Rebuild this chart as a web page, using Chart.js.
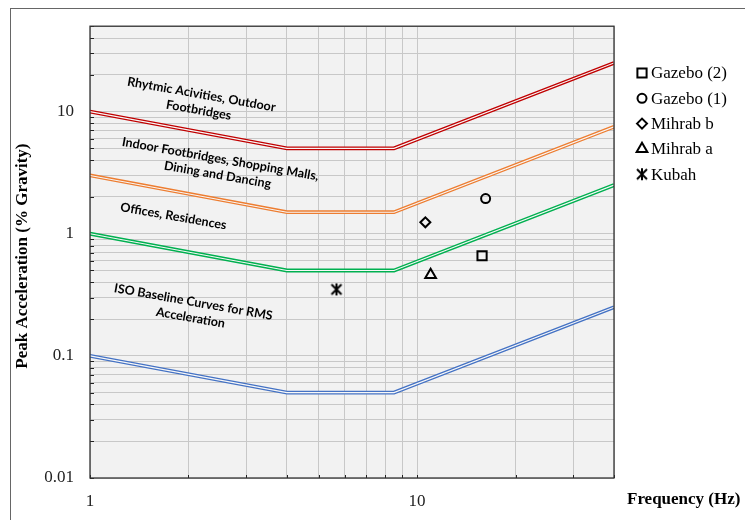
<!DOCTYPE html>
<html>
<head>
<meta charset="utf-8">
<script src="https://cdn.jsdelivr.net/npm/chart.js@4.4.1/dist/chart.umd.min.js"></script>
<style>
  body { margin: 0; background: #fff; }
  #wrap { width: 745px; height: 520px; }
</style>
</head>
<body>
<div id="wrap"><canvas id="vibChart"></canvas></div>
<script>
// limit curves: ISO baseline and its multiples
const curveFreq = [1, 4, 8.5, 40];
const isoBaseline = [0.1, 0.05, 0.05, 0.25];
const officeLimit = [1, 0.5, 0.5, 2.5];
const indoorLimit = [3, 1.5, 1.5, 7.5];
const rhythmicLimit = [10, 5, 5, 25];

// measured peaks [frequency Hz, peak acceleration %g]
const gazebo2 = [15.8, 0.66];
const gazebo1 = [16.2, 1.94];
const mihrabB = [10.6, 1.24];
const mihrabA = [11.0, 0.46];
const kubah = [5.67, 0.35];

// axis ticks
const xTicks = [1, 2, 3, 4, 5, 6, 7, 8, 9, 10, 20, 30, 40];
const xLabels = [1, 10];
const yTicks = [0.01, 0.02, 0.03, 0.04, 0.05, 0.06, 0.07, 0.08, 0.09,
                0.1, 0.2, 0.3, 0.4, 0.5, 0.6, 0.7, 0.8, 0.9,
                1, 2, 3, 4, 5, 6, 7, 8, 9,
                10, 20, 30, 40, 50];
const yLabels = [0.01, 0.1, 1, 10];

// curve captions, anchored at [frequency, acceleration]
const curveNotes = [
    { lines: ['Rhytmic Acivities, Outdoor', 'Footbridges'], at: [2.17, 11.9] },
    { lines: ['Indoor Footbridges, Shopping Malls,', 'Dining and Dancing'], at: [2.48, 3.52] },
    { lines: ['Offices, Residences'], at: [1.8, 1.39] },
    { lines: ['ISO Baseline Curves for RMS', 'Acceleration'], at: [2.05, 0.238] }
];

const serif = "'Liberation Serif', 'Times New Roman', serif";

function curvePoints(values) {
    return curveFreq.map((f, i) => ({ x: f, y: values[i] }));
}

// each limit curve is a double line: wide coloured stroke with a thin light core on top
function doubleLine(label, values, color) {
    const pts = curvePoints(values);
    const base = { showLine: true, pointRadius: 0, tension: 0, fill: false, borderJoinStyle: 'miter' };
    return [
        Object.assign({ label: label, data: pts, borderColor: color, borderWidth: 3.8, order: 3 }, base),
        Object.assign({ label: label + ' core', data: pts, borderColor: '#f8f8f8', borderWidth: 1.1, order: 2 }, base)
    ];
}

function starMarker() {
    const c = document.createElement('canvas');
    c.width = 14; c.height = 14;
    const g = c.getContext('2d');
    g.strokeStyle = '#000';
    g.lineWidth = 2;
    g.beginPath();
    g.moveTo(2, 2); g.lineTo(12, 12);
    g.moveTo(12, 2); g.lineTo(2, 12);
    g.moveTo(7, 1); g.lineTo(7, 13);
    g.stroke();
    return c;
}

function marker(label, pt, style, radius) {
    return {
        label: label,
        data: [{ x: pt[0], y: pt[1] }],
        pointStyle: style,
        pointRadius: radius,
        pointHoverRadius: radius,
        pointBorderWidth: 2,
        pointBorderColor: '#000',
        pointBackgroundColor: 'rgba(0,0,0,0)',
        order: 1,
        isMarker: true
    };
}

const datasets = [].concat(
    doubleLine('ISO baseline', isoBaseline, '#4472c4'),
    doubleLine('Offices', officeLimit, '#00b050'),
    doubleLine('Indoor', indoorLimit, '#ed7d31'),
    doubleLine('Rhythmic', rhythmicLimit, '#c00000'),
    [
        marker('Gazebo (2)', gazebo2, 'rect', 6.5),
        marker('Gazebo (1)', gazebo1, 'circle', 4.5),
        marker('Mihrab b', mihrabB, 'rectRot', 5),
        marker('Mihrab a', mihrabA, 'triangle', 6.2),
        marker('Kubah', kubah, starMarker(), 6)
    ]
);

// plot background, frame, inward ticks, captions, titles and legend
const decorations = {
    id: 'decorations',
    beforeDraw(chart) {
        const { ctx, chartArea: a } = chart;
        ctx.save();
        ctx.fillStyle = '#fff';
        ctx.fillRect(0, 0, chart.width, chart.height);
        ctx.fillStyle = '#f2f2f2';
        ctx.fillRect(a.left, a.top, a.right - a.left, a.bottom - a.top);
        ctx.restore();
    },
    beforeDatasetsDraw(chart) {
        const { ctx, chartArea: a, scales } = chart;
        ctx.save();
        ctx.strokeStyle = '#222';
        ctx.lineWidth = 1;
        ctx.beginPath();
        yTicks.forEach(v => {
            const y = Math.round(scales.y.getPixelForValue(v)) + 0.5;
            ctx.moveTo(a.left, y); ctx.lineTo(a.left + 4, y);
        });
        xTicks.forEach(v => {
            const x = Math.round(scales.x.getPixelForValue(v)) + 0.5;
            ctx.moveTo(x, a.bottom); ctx.lineTo(x, a.bottom - 3);
        });
        ctx.stroke();

        // curve captions
        ctx.fillStyle = '#000';
        ctx.font = "bold 12.5px Lato, 'Open Sans', sans-serif";
        ctx.textAlign = 'center';
        ctx.textBaseline = 'middle';
        curveNotes.forEach(n => {
            const x = scales.x.getPixelForValue(n.at[0]);
            const y = scales.y.getPixelForValue(n.at[1]);
            ctx.save();
            ctx.translate(x, y);
            ctx.rotate(10 * Math.PI / 180);
            const lh = 16;
            n.lines.forEach((t, i) => {
                ctx.fillText(t, 0, (i - (n.lines.length - 1) / 2) * lh);
            });
            ctx.restore();
        });
        ctx.restore();
    },
    afterDraw(chart) {
        const { ctx, chartArea: a } = chart;
        ctx.save();
        // plot frame
        ctx.strokeStyle = '#333';
        ctx.lineWidth = 1.3;
        ctx.strokeRect(a.left, a.top, a.right - a.left, a.bottom - a.top);

        // outer chart frame
        ctx.strokeStyle = '#666';
        ctx.lineWidth = 1;
        ctx.strokeRect(10.5, 8.5, 800, 600);

        // axis titles
        ctx.fillStyle = '#000';
        ctx.font = 'bold 17px ' + serif;
        ctx.textBaseline = 'middle';
        ctx.textAlign = 'left';
        ctx.fillText('Frequency (Hz)', 627, 500);
        ctx.save();
        ctx.translate(23, (a.top + a.bottom) / 2 + 4);
        ctx.rotate(-Math.PI / 2);
        ctx.textAlign = 'center';
        ctx.fillText('Peak Acceleration (% Gravity)', 0, 0);
        ctx.restore();

        // legend for the measured points
        const markers = chart.data.datasets.filter(d => d.isMarker);
        ctx.font = '17px ' + serif;
        markers.forEach((d, i) => {
            const y = 73 + i * 25.3;
            ctx.strokeStyle = '#000';
            ctx.fillStyle = 'rgba(0,0,0,0)';
            ctx.lineWidth = 2;
            Chart.helpers.drawPoint(ctx, {
                pointStyle: d.pointStyle,
                radius: d.pointRadius,
                borderWidth: 2,
                rotation: 0
            }, 642, y);
            ctx.fillStyle = '#000';
            ctx.fillText(d.label, 651, y + 1);
        });
        ctx.restore();
    }
};

const ctx = document.getElementById('vibChart').getContext('2d');
new Chart(ctx, {
    type: 'scatter',
    data: { datasets: datasets },
    options: {
        responsive: true,
        maintainAspectRatio: false,
        animation: false,
        layout: { padding: { top: 20, right: 131, left: 0, bottom: 0 } },
        plugins: { legend: { display: false }, tooltip: { enabled: false } },
        scales: {
            x: {
                type: 'logarithmic',
                min: 1,
                max: 40,
                afterBuildTicks: s => { s.ticks = xTicks.map(v => ({ value: v })); },
                afterFit: s => { s.height = 42; },
                grid: { color: '#c8c8c8', drawTicks: false },
                border: { display: false },
                ticks: {
                    autoSkip: false,
                    maxRotation: 0,
                    padding: 13,
                    color: '#222',
                    font: { family: serif, size: 17 },
                    callback: v => xLabels.includes(v) ? String(v) : ''
                }
            },
            y: {
                type: 'logarithmic',
                min: 0.01,
                max: 50,
                afterBuildTicks: s => { s.ticks = yTicks.map(v => ({ value: v })); },
                afterFit: s => { s.width = 90; },
                grid: { color: '#c8c8c8', drawTicks: false },
                border: { display: false },
                ticks: {
                    autoSkip: false,
                    padding: 16,
                    color: '#222',
                    font: { family: serif, size: 17 },
                    callback: v => yLabels.includes(v) ? String(v) : ''
                }
            }
        }
    },
    plugins: [decorations]
});
</script>
</body>
</html>
